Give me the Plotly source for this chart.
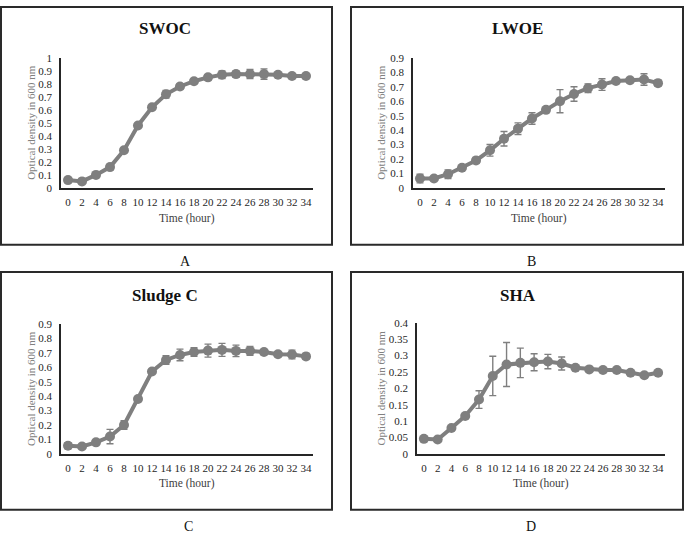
import plotly.graph_objects as go

W, H = 685, 546

times = [0, 2, 4, 6, 8, 10, 12, 14, 16, 18, 20, 22, 24, 26, 28, 30, 32, 34]

swoc = [0.06, 0.05, 0.10, 0.16, 0.29, 0.48, 0.62, 0.72, 0.78, 0.82, 0.85, 0.87, 0.875, 0.875, 0.875, 0.87, 0.86, 0.86]
swoc_err = [0.01, 0.01, 0.01, 0.02, 0.01, 0.01, 0.01, 0.03, 0.02, 0.01, 0.02, 0.03, 0.025, 0.035, 0.04, 0.01, 0.01, 0.01]

lwoe = [0.065, 0.065, 0.095, 0.14, 0.19, 0.26, 0.34, 0.41, 0.48, 0.54, 0.60, 0.65, 0.69, 0.715, 0.74, 0.745, 0.75, 0.725]
lwoe_err = [0.03, 0.01, 0.03, 0.01, 0.02, 0.04, 0.05, 0.04, 0.04, 0.01, 0.08, 0.05, 0.03, 0.04, 0.01, 0.01, 0.04, 0.02]

sludge = [0.057, 0.052, 0.08, 0.12, 0.20, 0.38, 0.57, 0.65, 0.685, 0.705, 0.715, 0.72, 0.713, 0.713, 0.705, 0.69, 0.688, 0.675]
sludge_err = [0.02, 0.01, 0.01, 0.05, 0.03, 0.01, 0.01, 0.03, 0.04, 0.03, 0.045, 0.045, 0.04, 0.03, 0.01, 0.01, 0.03, 0.02]

sha = [0.046, 0.044, 0.079, 0.116, 0.166, 0.238, 0.273, 0.278, 0.28, 0.282, 0.276, 0.263, 0.258, 0.256, 0.256, 0.248, 0.24, 0.248]
sha_err = [0.006, 0.004, 0.004, 0.004, 0.027, 0.06, 0.067, 0.045, 0.026, 0.022, 0.02, 0.004, 0.003, 0.003, 0.003, 0.003, 0.003, 0.003]

titles = ["SWOC", "LWOE", "Sludge C", "SHA"]
letters = ["A", "B", "C", "D"]
y_max = [1.0, 0.9, 0.9, 0.4]
y_step = [0.1, 0.1, 0.1, 0.05]
x_title = "Time (hour)"
y_title = "Optical density in 600 nm"

series = [(swoc, swoc_err), (lwoe, lwoe_err), (sludge, sludge_err), (sha, sha_err)]

# pixel layout: plot area (left, right, top, bottom)
plot_px = [(61, 313, 53, 186), (413, 665, 53, 186), (61, 313, 325, 458), (417, 665, 324, 458)]
frame_px = [(1, 332, 1, 244), (351, 683, 1, 244), (1, 332, 272, 515), (351, 683, 272, 515)]
title_px = [(165, 23), (517, 23), (165, 296), (518, 296)]
letter_px = [(185, 261), (531, 261), (188, 532), (531, 532)]
ytitle_x = [31, 381, 31, 381]
xtitle_y = [217, 217, 488, 488]

def fx(p):
    return p / W

def fy(p):
    return 1 - p / H

GREY = "#7f7f7f"
FONT = "Liberation Serif"

fig = go.Figure()
layout = dict(
    width=W, height=H,
    margin=dict(l=0, r=0, t=0, b=0),
    paper_bgcolor="white", plot_bgcolor="white",
    showlegend=False,
    font=dict(family=FONT, size=11, color="#333333"),
)
annotations = []
shapes = []

for i in range(4):
    k = "" if i == 0 else str(i + 1)
    vals, err = series[i]
    fig.add_trace(go.Scatter(
        x=times, y=vals,
        xaxis="x" + k, yaxis="y" + k,
        mode="lines+markers",
        line=dict(color=GREY, width=4),
        marker=dict(color=GREY, size=10, symbol="circle"),
        error_y=dict(type="data", array=err, visible=True, color=GREY, thickness=1.4, width=3.5),
    ))
    l, r, t, b = plot_px[i]
    nt = int(round(y_max[i] / y_step[i]))
    tv = [round(j * y_step[i], 2) for j in range(nt + 1)]
    tt = ["0" if v == 0 else ("1" if v == 1 else ("%g" % v)) for v in tv]
    layout["xaxis" + k] = dict(
        domain=[fx(l), fx(r)], anchor="y" + k,
        range=[-1, 35], tickvals=times, ticktext=[str(t_) for t_ in times],
        showline=True, linecolor="#262626", linewidth=1.8,
        showgrid=False, zeroline=False, ticks="", ticklabelstandoff=3,
        tickfont=dict(family=FONT, size=11, color="#262626"),
        fixedrange=True,
    )
    layout["yaxis" + k] = dict(
        domain=[fy(b), fy(t)], anchor="x" + k,
        range=[0, y_max[i]], tickvals=tv, ticktext=tt,
        showline=True, linecolor="#262626", linewidth=1.8,
        showgrid=False, zeroline=False, ticks="", ticklabelstandoff=5,
        tickfont=dict(family=FONT, size=11, color="#262626"),
        fixedrange=True,
    )
    # frame
    fl, fr, ft, fb = frame_px[i]
    shapes.append(dict(type="rect", xref="paper", yref="paper",
                       x0=fx(fl), x1=fx(fr), y0=fy(fb), y1=fy(ft),
                       line=dict(color="#2a2a2a", width=2), fillcolor="rgba(0,0,0,0)"))
    # title
    annotations.append(dict(text="<b>%s</b>" % titles[i], x=fx(title_px[i][0]), y=fy(title_px[i][1]),
                            xref="paper", yref="paper", showarrow=False,
                            xanchor="center", yanchor="middle",
                            font=dict(family=FONT, size=17, color="#111111")))
    # panel letter
    annotations.append(dict(text=letters[i], x=fx(letter_px[i][0]), y=fy(letter_px[i][1]),
                            xref="paper", yref="paper", showarrow=False,
                            xanchor="center", yanchor="middle",
                            font=dict(family=FONT, size=14, color="#111111")))
    # axis titles
    annotations.append(dict(text=x_title, x=fx((l + r) / 2), y=fy(xtitle_y[i]),
                            xref="paper", yref="paper", showarrow=False,
                            xanchor="center", yanchor="middle",
                            font=dict(family=FONT, size=11.5, color="#404040")))
    annotations.append(dict(text=y_title, x=fx(ytitle_x[i]), y=fy((t + b) / 2),
                            xref="paper", yref="paper", showarrow=False, textangle=-90,
                            xanchor="center", yanchor="middle",
                            font=dict(family=FONT, size=11, color="#808080")))

layout["annotations"] = annotations
layout["shapes"] = shapes
fig.update_layout(**layout)
fig.write_html("out.html", config={"displayModeBar": False},
               post_script="document.body.style.margin='0';document.body.style.overflow='hidden';")
